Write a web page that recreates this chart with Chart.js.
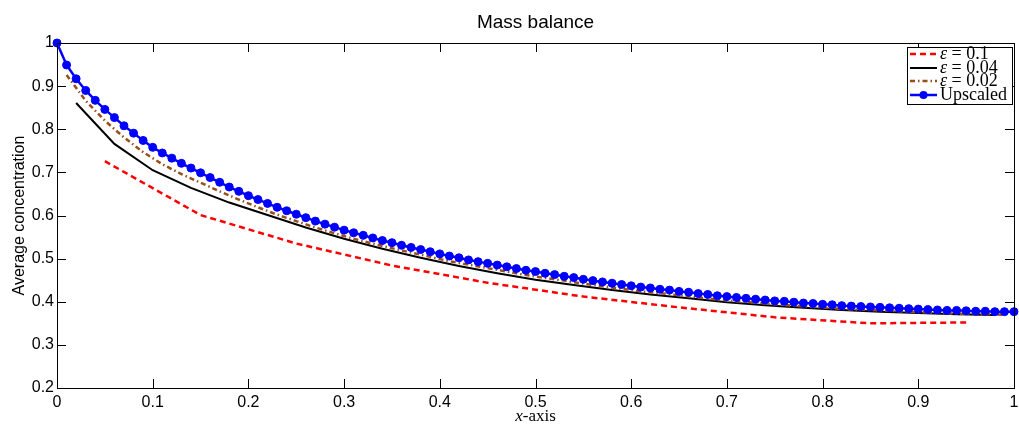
<!DOCTYPE html>
<html>
<head>
<meta charset="utf-8">
<script src="https://cdn.jsdelivr.net/npm/chart.js@4/dist/chart.umd.min.js"></script>
<style>
  body { margin: 0; background: #fff; }
</style>
</head>
<body>
<canvas id="myChart" width="1019" height="428"></canvas>
<script>
// data
var xRed = [0.05, 0.15, 0.25, 0.35, 0.45, 0.55, 0.65, 0.75, 0.85, 0.95];
var yRed = [0.726, 0.601, 0.535, 0.484, 0.444, 0.412, 0.387, 0.364, 0.350, 0.352];

var xBlack = [0.02, 0.06, 0.10, 0.14, 0.18, 0.22, 0.26, 0.30, 0.34, 0.38, 0.42, 0.46, 0.50,
              0.54, 0.58, 0.62, 0.66, 0.70, 0.74, 0.78, 0.82, 0.86, 0.90, 0.94, 0.98];
var yBlack = [0.861, 0.766, 0.705, 0.664, 0.630, 0.601, 0.572, 0.546, 0.523, 0.502, 0.483, 0.466, 0.451,
              0.439, 0.427, 0.417, 0.408, 0.399, 0.392, 0.386, 0.381, 0.377, 0.374, 0.371, 0.369];

var xBrown = [0.01, 0.03, 0.05, 0.07, 0.09, 0.11, 0.13, 0.15, 0.17, 0.19,
              0.21, 0.23, 0.25, 0.27, 0.29, 0.31, 0.33, 0.35, 0.37, 0.39,
              0.41, 0.43, 0.45, 0.47, 0.49, 0.51, 0.53, 0.55, 0.57, 0.59,
              0.61, 0.63, 0.65, 0.67, 0.69, 0.71, 0.73, 0.75, 0.77, 0.79,
              0.81, 0.83, 0.85, 0.87, 0.89, 0.91, 0.93, 0.95, 0.97, 0.99];
var yBrown = [0.926, 0.866, 0.820, 0.781, 0.747, 0.719, 0.696, 0.676, 0.656, 0.637,
              0.619, 0.602, 0.587, 0.572, 0.559, 0.546, 0.535, 0.524, 0.514, 0.504,
              0.494, 0.486, 0.478, 0.470, 0.462, 0.455, 0.449, 0.442, 0.436, 0.430,
              0.424, 0.420, 0.415, 0.410, 0.405, 0.401, 0.398, 0.394, 0.391, 0.388,
              0.385, 0.382, 0.381, 0.379, 0.377, 0.375, 0.373, 0.372, 0.371, 0.370];

var xBlue = [0, 0.01, 0.02, 0.03, 0.04, 0.05, 0.06, 0.07, 0.08, 0.09,
             0.10, 0.11, 0.12, 0.13, 0.14, 0.15, 0.16, 0.17, 0.18, 0.19,
             0.20, 0.21, 0.22, 0.23, 0.24, 0.25, 0.26, 0.27, 0.28, 0.29,
             0.30, 0.31, 0.32, 0.33, 0.34, 0.35, 0.36, 0.37, 0.38, 0.39,
             0.40, 0.41, 0.42, 0.43, 0.44, 0.45, 0.46, 0.47, 0.48, 0.49,
             0.50, 0.51, 0.52, 0.53, 0.54, 0.55, 0.56, 0.57, 0.58, 0.59,
             0.60, 0.61, 0.62, 0.63, 0.64, 0.65, 0.66, 0.67, 0.68, 0.69,
             0.70, 0.71, 0.72, 0.73, 0.74, 0.75, 0.76, 0.77, 0.78, 0.79,
             0.80, 0.81, 0.82, 0.83, 0.84, 0.85, 0.86, 0.87, 0.88, 0.89,
             0.90, 0.91, 0.92, 0.93, 0.94, 0.95, 0.96, 0.97, 0.98, 0.99,
             1.00];
var yBlue = [1.000, 0.949, 0.917, 0.890, 0.867, 0.846, 0.827, 0.808, 0.791, 0.774,
             0.758, 0.745, 0.733, 0.721, 0.710, 0.699, 0.688, 0.677, 0.666, 0.656,
             0.646, 0.637, 0.628, 0.619, 0.611, 0.603, 0.595, 0.587, 0.580, 0.573,
             0.566, 0.560, 0.554, 0.548, 0.542, 0.537, 0.531, 0.526, 0.521, 0.516,
             0.511, 0.506, 0.502, 0.497, 0.493, 0.489, 0.485, 0.481, 0.477, 0.473,
             0.470, 0.466, 0.463, 0.459, 0.456, 0.452, 0.449, 0.446, 0.443, 0.440,
             0.437, 0.434, 0.432, 0.429, 0.427, 0.424, 0.422, 0.419, 0.417, 0.414,
             0.412, 0.410, 0.408, 0.406, 0.404, 0.402, 0.401, 0.399, 0.397, 0.396,
             0.394, 0.393, 0.391, 0.390, 0.389, 0.388, 0.387, 0.386, 0.385, 0.384,
             0.383, 0.382, 0.381, 0.380, 0.380, 0.379, 0.378, 0.378, 0.377, 0.377,
             0.377];

var legendEps = ['0.1', '0.04', '0.02'];

function pts(xs, ys) {
    return xs.map(function (x, i) { return { x: x, y: ys[i] }; });
}

function tickText(v) {
    return String(Math.round(v * 10) / 10);
}

var BROWN = 'rgb(153,77,26)';

// frame with inward ticks, titles and the legend box
var framePlugin = {
    id: 'frame',
    afterDraw: function (chart) {
        var c = chart.ctx, a = chart.chartArea;
        var xs = chart.scales.x, ys = chart.scales.y;
        var len = 9;
        c.save();
        c.strokeStyle = '#000';
        c.lineWidth = 1;
        c.beginPath();
        xs.ticks.forEach(function (t) {
            var px = Math.round(xs.getPixelForValue(t.value)) + 0.5;
            c.moveTo(px, a.bottom); c.lineTo(px, a.bottom - len);
            c.moveTo(px, a.top); c.lineTo(px, a.top + len);
        });
        ys.ticks.forEach(function (t) {
            var py = Math.round(ys.getPixelForValue(t.value)) + 0.5;
            c.moveTo(a.left, py); c.lineTo(a.left + len, py);
            c.moveTo(a.right, py); c.lineTo(a.right - len, py);
        });
        c.stroke();
        c.strokeRect(Math.round(a.left) + 0.5, Math.round(a.top) + 0.5,
                     Math.round(a.right - a.left), Math.round(a.bottom - a.top));

        var mid = (a.left + a.right) / 2;
        c.fillStyle = '#000';
        c.textBaseline = 'alphabetic';

        // main title over the plot area
        c.font = '19px "Liberation Sans"';
        c.textAlign = 'center';
        c.fillText('Mass balance', mid, 28);
        c.textAlign = 'left';

        // x-axis title: italic x
        var f1 = 'italic 17px "Liberation Serif"', f2 = '17px "Liberation Serif"';
        c.font = f1; var w1 = c.measureText('x').width;
        c.font = f2; var w2 = c.measureText('-axis').width;
        var cx = mid - (w1 + w2) / 2;
        c.font = f1; c.fillText('x', cx, 421);
        c.font = f2; c.fillText('-axis', cx + w1, 421);

        // legend
        var bx = 907, by = 47, bw = 105, bh = 57;
        c.fillStyle = '#fff';
        c.fillRect(bx, by, bw, bh);
        c.strokeRect(bx + 0.5, by + 0.5, bw, bh);
        var rows = [54, 68, 81, 95];
        var styles = [
            { color: '#ff0000', width: 2.5, dash: [6, 4] },
            { color: '#000000', width: 2, dash: [] },
            { color: BROWN, width: 2.5, dash: [5, 3, 1.5, 3] },
            { color: '#0000ff', width: 2.5, dash: [] }
        ];
        styles.forEach(function (s, i) {
            c.strokeStyle = s.color;
            c.lineWidth = s.width;
            c.setLineDash(s.dash);
            c.beginPath();
            c.moveTo(910, rows[i]); c.lineTo(937, rows[i]);
            c.stroke();
        });
        c.setLineDash([]);
        c.fillStyle = '#0000ff';
        c.beginPath(); c.arc(923.5, rows[3], 4, 0, Math.PI * 2); c.fill();

        c.fillStyle = '#000';
        var lf = '18px "Liberation Serif"';
        legendEps.forEach(function (v, i) {
            c.font = 'italic ' + lf;
            c.fillText('\u03b5', 940, rows[i] + 5);
            var w = c.measureText('\u03b5').width;
            c.font = lf;
            c.fillText(' = ' + v, 940 + w, rows[i] + 5);
        });
        c.font = lf;
        c.fillText('Upscaled', 940, rows[3] + 5);
        c.restore();
    }
};

var ctx = document.getElementById('myChart');

var chart = new Chart(ctx, {
    type: 'line',
    data: {
        datasets: [{
            label: 'Upscaled',
            data: pts(xBlue, yBlue),
            borderColor: '#0000ff',
            backgroundColor: '#0000ff',
            borderWidth: 2.5,
            pointRadius: 4,
            pointBorderWidth: 1,
            clip: false
        }, {
            label: 'eps = 0.02',
            data: pts(xBrown, yBrown),
            borderColor: BROWN,
            borderWidth: 2.5,
            borderDash: [5, 3, 1.5, 3],
            pointRadius: 0
        }, {
            label: 'eps = 0.04',
            data: pts(xBlack, yBlack),
            borderColor: '#000000',
            borderWidth: 2,
            pointRadius: 0
        }, {
            label: 'eps = 0.1',
            data: pts(xRed, yRed),
            borderColor: '#ff0000',
            borderWidth: 2.5,
            borderDash: [6, 4],
            pointRadius: 0
        }]
    },
    options: {
        responsive: false,
        animation: false,
        layout: { padding: { left: 0, right: 3, top: 43, bottom: 0 } },
        plugins: {
            legend: { display: false },
            tooltip: { enabled: false },
            title: { display: false }
        },
        scales: {
            x: {
                type: 'linear',
                min: 0, max: 1,
                grid: { display: false, drawTicks: false },
                border: { display: false },
                ticks: {
                    stepSize: 0.1, color: '#000', padding: 5,
                    maxRotation: 0, autoSkip: false,
                    font: { family: '"Liberation Sans"', size: 16 },
                    callback: tickText
                },
                afterFit: function (s) { s.height = 40; s.paddingLeft = 0; s.paddingRight = 0; }
            },
            y: {
                min: 0.2, max: 1,
                grid: { display: false, drawTicks: false },
                border: { display: false },
                ticks: {
                    stepSize: 0.1, color: '#000', padding: 3,
                    font: { family: '"Liberation Sans"', size: 16 },
                    callback: tickText
                },
                title: {
                    display: true,
                    text: 'Average concentration',
                    color: '#000',
                    font: { family: '"Liberation Sans"', size: 16 },
                    padding: { top: 10, bottom: 0 }
                },
                afterFit: function (s) { s.width = 57; s.paddingTop = 0; s.paddingBottom = 0; }
            }
        }
    },
    plugins: [framePlugin]
});
</script>
</body>
</html>
